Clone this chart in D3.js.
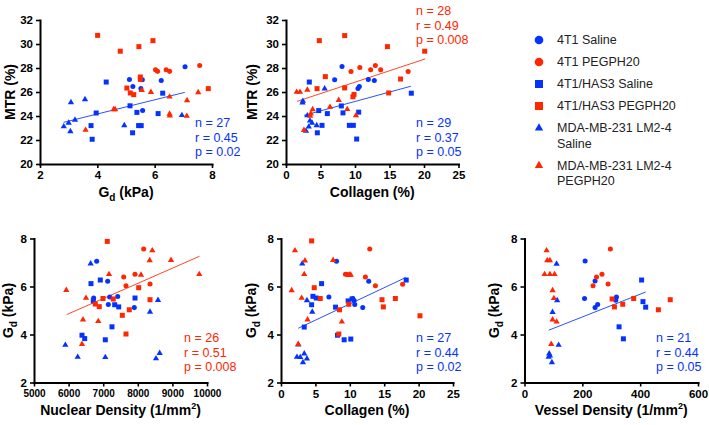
<!DOCTYPE html>
<html><head><meta charset="utf-8">
<script src="https://cdn.jsdelivr.net/npm/d3@7"></script>
<style>
body{margin:0;background:#fff;}
svg{display:block;font-family:"Liberation Sans",Arial,Helvetica,sans-serif;}
</style></head><body>
<svg id="c" width="709" height="425"></svg>
<script>
// ---------- categories ----------
const groups = ["4T1 Saline","4T1 PEGPH20","4T1/HAS3 Saline","4T1/HAS3 PEGPH20","MDA-MB-231 LM2-4 Saline","MDA-MB-231 LM2-4 PEGPH20"];
const legendLines = [["4T1 Saline"],["4T1 PEGPH20"],["4T1/HAS3 Saline"],["4T1/HAS3 PEGPH20"],["MDA-MB-231 LM2-4","Saline"],["MDA-MB-231 LM2-4","PEGPH20"]];

// ---------- tick labels ----------
const mtrTicks = [20,22,24,26,28,30,32];
const gdTicks = [2,4,6,8];
const collagenTicks = [0,5,10,15,20,25];
const nuclearTicks = [5000,6000,7000,8000,9000,10000];
const vesselTicks = [0,200,400,600];

// ---------- Panel A: Gd (kPa) vs MTR (%) ----------
const a_4T1Saline = [[5.12,27.05],[5.24,26.45],[5.52,26.28],[5.57,27.02],[6.23,26.95],[7.06,28.1],[5.58,24.45]];
const a_4T1Peg = [[6.03,27.85],[6.1,27.72],[6.4,27.85],[6.52,27.72],[7.57,28.2]];
const a_HAS3Saline = [[4.31,26.83],[3.96,24.25],[3.78,23.2],[3.82,22.06],[5.14,24.85],[5.38,24.3],[5.44,23.2],[5.53,23.2],[5.23,22.6],[6.12,24.2],[6.28,25.9]];
const a_HAS3Peg = [[4.01,30.72],[4.8,29.4],[5.45,29.78],[5.94,30.28],[5.5,27.25],[5.5,27.05],[5.03,26.33],[5.15,25.92],[5.27,25.78],[7.87,26.28]];
const a_MDASaline = [[3.08,25.14],[3.57,25.38],[3.22,23.67],[3.0,23.42],[2.83,23.12],[3.06,22.72],[4.94,23.22],[6.95,24.06]];
const a_MDAPeg = [[3.59,22.83],[4.57,24.55],[4.62,24.55],[5.87,25.98],[5.55,26.15],[6.52,25.6],[6.52,24.17],[6.53,24.02],[7.13,25.3],[7.12,24.0],[7.52,25.97]];
const a_fitBlue = [[2.82,23.47],[7.05,25.97]];
const a_statsBlue = ["n = 27","r = 0.45","p = 0.02"];

// ---------- Panel B: Collagen (%) vs MTR (%) ----------
const b_4T1Saline = [[8.12,28.12],[7.05,27.02],[10.43,26.3],[10.63,26.45],[11.93,27.04],[12.8,26.95]];
const b_4T1Peg = [[9.42,27.7],[10.7,28.04],[12.27,27.86],[12.95,28.2],[13.72,27.86],[17.7,27.7]];
const b_HAS3Saline = [[3.38,26.83],[4.74,24.45],[5.99,24.2],[8.02,24.84],[8.26,24.26],[10.53,24.32],[5.22,23.22],[4.54,22.6],[9.18,23.22],[9.76,23.22],[10.24,22.08],[18.16,25.9]];
const b_HAS3Peg = [[4.83,30.28],[8.5,30.7],[14.7,29.78],[20.1,29.4],[5.7,27.28],[4.5,26.28],[8.5,26.34],[9.86,25.8],[9.7,25.6],[14.88,25.92],[16.6,27.08]];
const b_MDASaline = [[2.45,25.25],[2.4,25.1],[5.6,26.28],[3.09,24.04],[3.48,23.6],[3.77,23.42],[3.3,23.1],[4.44,23.22],[2.9,22.75]];
const b_MDAPeg = [[1.55,26.0],[2.03,26.0],[3.09,26.18],[7.64,25.32],[6.38,24.75],[3.86,24.55],[3.6,24.2],[3.5,24.0],[8.88,24.56],[10.14,24.04],[2.6,22.82]];
const b_fitRed = [[1.6,25.22],[20.15,28.75]];
const b_fitBlue = [[2.6,24.05],[18.1,26.48]];
const b_statsRed = ["n = 28","r = 0.49","p = 0.008"];
const b_statsBlue = ["n = 29","r = 0.37","p = 0.05"];

// ---------- Panel C: Nuclear density vs Gd ----------
const c_4T1Saline = [[6812,7.05],[7130,6.22],[6725,5.52],[7188,5.56],[7419,5.58],[7148,5.25],[7899,5.12]];
const c_4T1Peg = [[8170,7.56],[7592,6.4],[7919,6.51],[7659,6.03],[8353,6.1]];
const c_HAS3Saline = [[6647,6.12],[6916,6.27],[6714,5.4],[7332,5.24],[7448,5.15],[7919,5.52],[7254,4.32],[6387,3.97],[6465,3.83],[7061,3.78]];
const c_HAS3Peg = [[7118,7.88],[8026,5.95],[8353,5.45],[6772,5.27],[6887,5.16],[6994,5.5],[7292,5.48],[7552,4.8],[7754,5.03],[7659,4.02]];
const c_MDASaline = [[6638,6.95],[8584,5.43],[8353,4.94],[5905,3.56],[6263,3.06],[7061,3.05],[8632,3.22],[8526,3.0]];
const c_MDAPeg = [[8419,7.5],[8344,7.09],[8960,7.1],[9777,6.51],[7168,6.51],[8092,6.48],[5934,5.85],[6503,5.52],[6416,4.62],[6858,4.55],[6387,3.6]];
const c_fitRed = [[5945,4.83],[9785,7.26]];
const c_statsRed = ["n = 26","r = 0.51","p = 0.008"];

// ---------- Panel D: Collagen (%) vs Gd ----------
const d_4T1Saline = [[8.07,7.05],[12.75,6.22],[6.96,5.56],[10.43,5.5],[10.63,5.42],[10.72,5.25],[11.88,5.12]];
const d_4T1Peg = [[12.9,7.56],[9.37,6.51],[9.66,6.5],[12.27,6.4],[13.72,6.03],[17.68,6.09]];
const d_HAS3Saline = [[5.9,6.12],[4.64,5.59],[5.12,5.52],[4.45,5.24],[9.76,5.4],[10.33,5.48],[7.93,5.14],[3.38,4.31],[8.21,3.97],[9.18,3.78],[10.14,3.81],[18.2,6.27]];
const d_HAS3Peg = [[4.45,7.9],[4.83,5.95],[5.7,5.5],[14.68,5.45],[16.62,5.5],[14.88,5.15],[9.86,5.26],[8.5,5.03],[8.4,4.02],[20.2,4.78]];
const d_MDASaline = [[3.09,6.95],[3.77,5.42],[4.54,4.94],[2.51,3.58],[2.32,3.06],[2.8,3.05],[3.38,3.2],[3.77,2.99],[3.19,2.84]];
const d_MDAPeg = [[2.03,7.5],[3.48,7.08],[7.58,7.1],[3.38,6.51],[9.95,6.48],[10.14,6.48],[1.55,5.84],[3.0,5.52],[3.86,4.62],[8.84,4.53],[2.51,3.6]];
const d_fitBlue = [[2.51,4.26],[18.1,6.37]];
const d_statsBlue = ["n = 27","r = 0.44","p = 0.02"];

// ---------- Panel E: Vessel density vs Gd ----------
const e_4T1Saline = [[209.7,7.06],[244,6.23],[207.6,5.5],[244,5.12],[253,5.25],[318,5.56],[315.5,5.43]];
const e_4T1Peg = [[297,7.56],[237,6.03],[249,6.4],[268,6.51],[289,6.1]];
const e_HAS3Saline = [[405,6.27],[409.7,5.37],[419,5.14],[327,4.32],[342,3.82]];
const e_HAS3Peg = [[303,5.48],[311,5.15],[339.7,5.26],[377.6,5.5],[463,5.03],[504,5.45]];
const e_MDASaline = [[111,6.94],[113,5.42],[97,4.93],[118,3.56],[85.5,3.2],[88,3.12],[83.4,3.06],[94.8,2.84]];
const e_MDAPeg = [[76.4,7.5],[78.7,7.09],[87.9,7.09],[69.5,6.51],[87.9,6.51],[104,6.51],[97.2,5.84],[101.7,5.51],[97.2,4.62],[111,4.53],[92.5,3.6]];
const e_fitBlue = [[84,4.18],[419,5.77]];
const e_statsBlue = ["n = 21","r = 0.44","p = 0.05"];

// ---------- styling ----------
const RED = "#FF2600", BLUE = "#0433FF";
const groupColor = [BLUE, RED, BLUE, RED, BLUE, RED];
const groupShape = [d3.symbolCircle, d3.symbolCircle, d3.symbolSquare, d3.symbolSquare, d3.symbolTriangle, d3.symbolTriangle];
const plotSize = [20, 20, 25, 25, 17, 17];
const legSize = [58, 58, 64, 64, 30, 30];

const panels = [
  {sets:[a_4T1Saline,a_4T1Peg,a_HAS3Saline,a_HAS3Peg,a_MDASaline,a_MDAPeg], xd:[2,8], xr:[40,212], yd:[20,32], yr:[164,20],
   xt:gdTicks, yt:mtrTicks, xt_fs:11.5, xlab:"gd", ylab:"MTR (%)", ylx:10,
   fits:[[a_fitBlue,BLUE]], stats:[[a_statsBlue,BLUE,195,123]]},
  {sets:[b_4T1Saline,b_4T1Peg,b_HAS3Saline,b_HAS3Peg,b_MDASaline,b_MDAPeg], xd:[0,25], xr:[286,458.5], yd:[20,32], yr:[164,20],
   xt:collagenTicks, yt:mtrTicks, xt_fs:11.5, xlab:"Collagen (%)", ylab:"MTR (%)", ylx:252,
   fits:[[b_fitRed,RED],[b_fitBlue,BLUE]], stats:[[b_statsRed,RED,416,11],[b_statsBlue,BLUE,416,123]]},
  {sets:[c_4T1Saline,c_4T1Peg,c_HAS3Saline,c_HAS3Peg,c_MDASaline,c_MDAPeg], xd:[5000,10000], xr:[34,207], yd:[2,8], yr:[382.5,238.5],
   xt:nuclearTicks, yt:gdTicks, xt_fs:10, xlab:"Nuclear Density (1/mm", sup:true, ylab:"gd", ylx:8,
   fits:[[c_fitRed,RED]], stats:[[c_statsRed,RED,184,338]]},
  {sets:[d_4T1Saline,d_4T1Peg,d_HAS3Saline,d_HAS3Peg,d_MDASaline,d_MDAPeg], xd:[0,25], xr:[281,453], yd:[2,8], yr:[382.5,238.5],
   xt:collagenTicks, yt:gdTicks, xt_fs:11.5, xlab:"Collagen (%)", ylab:"gd", ylx:251,
   fits:[[d_fitBlue,BLUE]], stats:[[d_statsBlue,BLUE,416,338]]},
  {sets:[e_4T1Saline,e_4T1Peg,e_HAS3Saline,e_HAS3Peg,e_MDASaline,e_MDAPeg], xd:[0,600], xr:[524.5,698], yd:[2,8], yr:[382.5,238.5],
   xt:vesselTicks, yt:gdTicks, xt_fs:11.5, xlab:"Vessel Density (1/mm", sup:true, ylab:"gd", ylx:494,
   fits:[[e_fitBlue,BLUE]], stats:[[e_statsBlue,BLUE,656,338]]}
];

const svg = d3.select("#c");

function gdLabel(t){
  t.append("tspan").text("G");
  t.append("tspan").attr("font-size","10px").attr("dy","4").text("d");
  t.append("tspan").attr("dy","-4").text(" (kPa)");
}

panels.forEach(p=>{
  const x = d3.scaleLinear().domain(p.xd).range(p.xr);
  const y = d3.scaleLinear().domain(p.yd).range(p.yr);
  const g = svg.append("g");

  // axes
  const xa = g.append("g").attr("transform",`translate(0,${p.yr[0]})`)
    .call(d3.axisBottom(x).tickValues(p.xt).tickFormat(d3.format("d")).tickSize(4).tickSizeOuter(0).tickPadding(3));
  const ya = g.append("g").attr("transform",`translate(${p.xr[0]},0)`)
    .call(d3.axisLeft(y).tickValues(p.yt).tickFormat(d3.format("d")).tickSize(4).tickSizeOuter(0).tickPadding(3));
  [xa,ya].forEach(a=>{
    a.select(".domain").attr("stroke","#000").attr("stroke-width",2).attr("stroke-linecap","square");
    a.selectAll(".tick line").attr("stroke","#000").attr("stroke-width",1.6);
    a.selectAll(".tick text").attr("fill","#000").attr("font-weight","bold")
      .attr("font-family",'"Liberation Sans",Arial,sans-serif');
  });
  xa.selectAll(".tick text").attr("font-size",p.xt_fs+"px");
  ya.selectAll(".tick text").attr("font-size","11.5px");

  // fit lines
  p.fits.forEach(([pts,col])=>{
    g.append("path").attr("d",d3.line().x(d=>x(d[0])).y(d=>y(d[1]))(pts))
      .attr("stroke",col).attr("stroke-width",1).attr("fill","none").attr("opacity",0.85);
  });

  // points
  p.sets.forEach((set,i)=>{
    g.append("g").selectAll("path").data(set).join("path")
      .attr("transform",d=>`translate(${x(d[0])},${y(d[1])})`)
      .attr("d",d3.symbol().type(groupShape[i]).size(plotSize[i]))
      .attr("fill",groupColor[i]);
  });

  // stats text
  p.stats.forEach(([lines,col,sx,sy])=>{
    lines.forEach((s,k)=>{
      g.append("text").attr("x",sx).attr("y",sy+k*14.5).attr("dy","0.35em")
        .attr("font-size","12.5px").attr("fill",col).text(s);
    });
  });

  // axis titles
  const cx = (p.xr[0]+p.xr[1])/2;
  const xt = g.append("text").attr("x",cx).attr("y",p.yr[0]+28).attr("dy","0.35em")
    .attr("text-anchor","middle").attr("font-weight","bold").attr("font-size","14px");
  if(p.xlab==="gd") gdLabel(xt);
  else {
    xt.append("tspan").text(p.xlab);
    if(p.sup){
      xt.append("tspan").attr("font-size","9px").attr("dy","-6").text("2");
      xt.append("tspan").attr("dy","6").text(")");
    }
  }
  const cy = (p.yr[0]+p.yr[1])/2;
  const yt = g.append("text").attr("transform",`translate(${p.ylx},${cy}) rotate(-90)`).attr("dy","0.35em")
    .attr("text-anchor","middle").attr("font-weight","bold").attr("font-size","14px");
  if(p.ylab==="gd") gdLabel(yt); else yt.text(p.ylab);
});

// legend
const legY = [40, 62, 84, 106, 128, 165.5];
const leg = svg.append("g");
groups.forEach((gname,i)=>{
  leg.append("path").attr("transform",`translate(539,${legY[i]})`)
    .attr("d",d3.symbol().type(groupShape[i]).size(legSize[i])).attr("fill",groupColor[i]);
  legendLines[i].forEach((ln,k)=>{
    leg.append("text").attr("x",557).attr("y",legY[i]+k*15.5).attr("dy","0.35em")
      .attr("font-size","12.5px").attr("fill","#222").text(ln);
  });
});
</script>
</body></html>
